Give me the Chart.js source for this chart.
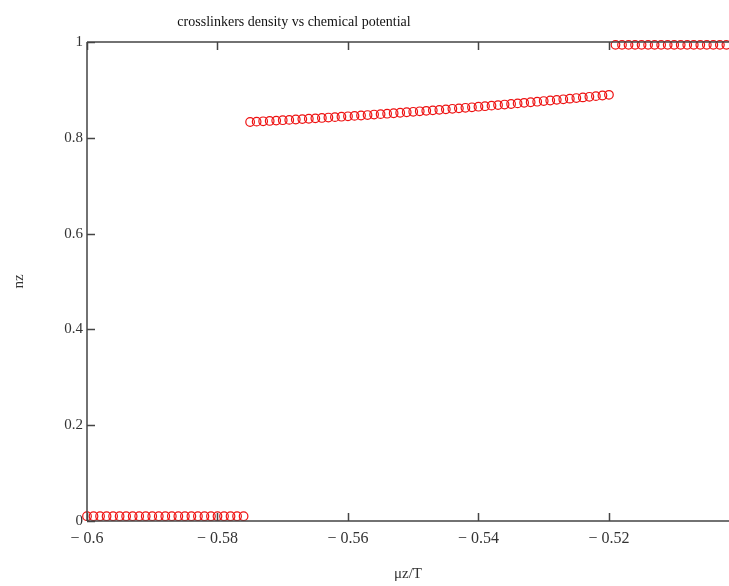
<!DOCTYPE html>
<html>
<head>
<meta charset="utf-8">
<script src="https://cdn.jsdelivr.net/npm/chart.js@4.4.1/dist/chart.umd.min.js"></script>
<style>
html,body{margin:0;padding:0;background:#fff;overflow:hidden;}
canvas{display:block;}
</style>
</head>
<body>
<canvas id="c" width="729" height="586" style="width:729px;height:586px"></canvas>
<script>
const chartTitle = "crosslinkers density vs chemical potential";
const xAxisTitle = "μz/T";
const yAxisTitle = "nz";
const xTickValues = [-0.6, -0.58, -0.56, -0.54, -0.52];
const xTickLabels = ["− 0.6", "− 0.58", "− 0.56", "− 0.54", "− 0.52"];
const yTickValues = [0, 0.2, 0.4, 0.6, 0.8, 1];
const yTickLabels = ["0", "0.2", "0.4", "0.6", "0.8", "1"];

const lowX = [-0.600,-0.599,-0.598,-0.597,-0.596,-0.595,-0.594,-0.593,-0.592,-0.591,-0.590,-0.589,-0.588,-0.587,-0.586,-0.585,-0.584,-0.583,-0.582,-0.581,-0.580,-0.579,-0.578,-0.577,-0.576];
const lowY = [0.010,0.010,0.010,0.010,0.010,0.010,0.010,0.010,0.010,0.010,0.010,0.010,0.010,0.010,0.010,0.010,0.010,0.010,0.010,0.010,0.010,0.010,0.010,0.010,0.010];

const midX = [-0.575,-0.574,-0.573,-0.572,-0.571,-0.570,-0.569,-0.568,-0.567,-0.566,-0.565,-0.564,-0.563,-0.562,-0.561,-0.560,-0.559,-0.558,-0.557,-0.556,-0.555,-0.554,-0.553,-0.552,-0.551,-0.550,-0.549,-0.548,-0.547,-0.546,-0.545,-0.544,-0.543,-0.542,-0.541,-0.540,-0.539,-0.538,-0.537,-0.536,-0.535,-0.534,-0.533,-0.532,-0.531,-0.530,-0.529,-0.528,-0.527,-0.526,-0.525,-0.524,-0.523,-0.522,-0.521,-0.520];
const midY = [0.8330,0.8337,0.8344,0.8352,0.8359,0.8367,0.8374,0.8382,0.8390,0.8398,0.8406,0.8414,0.8423,0.8431,0.8440,0.8449,0.8457,0.8466,0.8475,0.8485,0.8494,0.8503,0.8513,0.8523,0.8533,0.8543,0.8553,0.8563,0.8573,0.8583,0.8594,0.8605,0.8615,0.8626,0.8637,0.8649,0.8660,0.8671,0.8683,0.8694,0.8706,0.8718,0.8730,0.8742,0.8754,0.8767,0.8779,0.8792,0.8804,0.8817,0.8830,0.8843,0.8856,0.8870,0.8883,0.8897];

const highX = [-0.519,-0.518,-0.517,-0.516,-0.515,-0.514,-0.513,-0.512,-0.511,-0.510,-0.509,-0.508,-0.507,-0.506,-0.505,-0.504,-0.503,-0.502];
const highY = [0.994,0.994,0.994,0.994,0.994,0.994,0.994,0.994,0.994,0.994,0.994,0.994,0.994,0.994,0.994,0.994,0.994,0.994];

const toPts = (xs, ys) => xs.map((v, i) => ({x: v, y: ys[i]}));
const serif = "'Liberation Serif', 'DejaVu Serif', serif";
const ptStyle = {
  showLine: false,
  pointStyle: 'circle',
  pointRadius: 4.3,
  pointBorderWidth: 1.2,
  pointBorderColor: '#ee1111',
  pointBackgroundColor: 'rgba(0,0,0,0)',
  borderColor: '#ee1111',
  backgroundColor: 'rgba(0,0,0,0)',
  clip: false
};

const framePlugin = {
  id: 'frame',
  afterDraw(chart) {
    const {ctx, chartArea: {left, top, right, bottom}, scales: {x, y}} = chart;
    ctx.save();
    ctx.strokeStyle = '#444';
    ctx.lineWidth = 1.5;
    ctx.beginPath();
    ctx.moveTo(left, top); ctx.lineTo(right, top);
    ctx.moveTo(left, bottom); ctx.lineTo(right, bottom);
    ctx.moveTo(left, top); ctx.lineTo(left, bottom);
    xTickValues.forEach(v => {
      const px = Math.round(x.getPixelForValue(v)) + 0.5;
      ctx.moveTo(px, bottom); ctx.lineTo(px, bottom - 8);
      ctx.moveTo(px, top); ctx.lineTo(px, top + 8);
    });
    yTickValues.forEach(v => {
      const py = Math.round(y.getPixelForValue(v)) + 0.5;
      ctx.moveTo(left, py); ctx.lineTo(left + 8, py);
    });
    ctx.stroke();
    ctx.fillStyle = '#111';
    ctx.font = "14px " + serif;
    ctx.textAlign = 'center';
    ctx.textBaseline = 'middle';
    ctx.fillText(chartTitle, 294, 22);
    ctx.restore();
  }
};

new Chart(document.getElementById('c'), {
  type: 'scatter',
  data: {
    datasets: [
      Object.assign({label: 'low', data: toPts(lowX, lowY)}, ptStyle),
      Object.assign({label: 'mid', data: toPts(midX, midY)}, ptStyle),
      Object.assign({label: 'high', data: toPts(highX, highY)}, ptStyle)
    ]
  },
  options: {
    responsive: false,
    animation: false,
    devicePixelRatio: 1,
    layout: {autoPadding: false, padding: {top: 42, left: 0, right: 0, bottom: 0}},
    plugins: {legend: {display: false}, tooltip: {enabled: false}, title: {display: false}},
    scales: {
      x: {
        type: 'linear',
        min: -0.6,
        max: -0.5016,
        afterBuildTicks: s => { s.ticks = xTickValues.map(v => ({value: v})); },
        afterFit: s => { s.height = 65; s.paddingLeft = 0; s.paddingRight = 0; },
        grid: {display: false, drawTicks: false},
        border: {display: false},
        ticks: {
          padding: 8,
          color: '#333',
          font: {family: serif, size: 16},
          maxRotation: 0,
          autoSkip: false,
          callback: (v) => { const i = xTickValues.findIndex(t => Math.abs(t - v) < 1e-9); return i >= 0 ? xTickLabels[i] : ''; }
        },
        title: {display: true, text: xAxisTitle, color: '#333', font: {family: serif, size: 15}, padding: {top: 0, bottom: 3}}
      },
      y: {
        type: 'linear',
        min: 0,
        max: 1,
        afterBuildTicks: s => { s.ticks = yTickValues.map(v => ({value: v})); },
        afterFit: s => { s.width = 87; s.paddingTop = 0; s.paddingBottom = 0; },
        grid: {display: false, drawTicks: false},
        border: {display: false},
        ticks: {
          padding: 4,
          color: '#333',
          font: {family: serif, size: 15},
          callback: (v) => { const i = yTickValues.findIndex(t => Math.abs(t - v) < 1e-9); return i >= 0 ? yTickLabels[i] : ''; }
        },
        title: {display: true, text: yAxisTitle, color: '#333', font: {family: serif, size: 15}, padding: {top: 10, bottom: 8}}
      }
    }
  },
  plugins: [framePlugin]
});
</script>
</body>
</html>
